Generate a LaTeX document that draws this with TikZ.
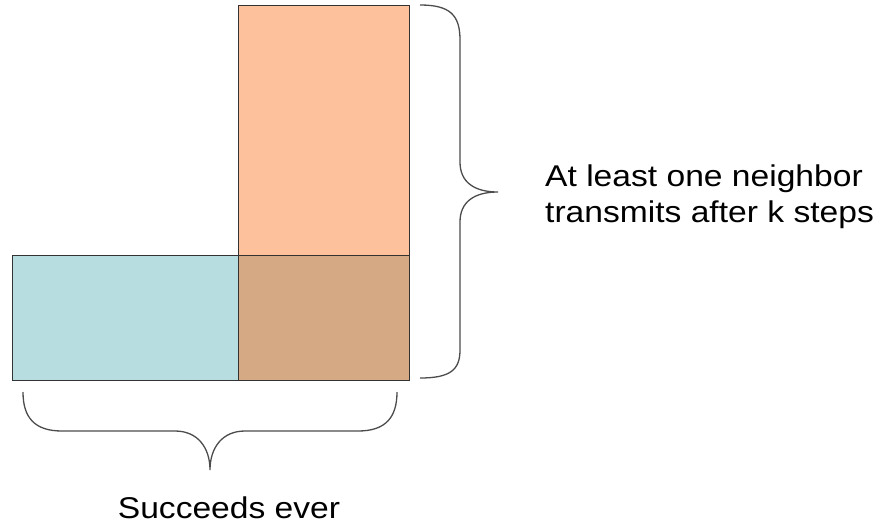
\documentclass[tikz,border=0pt]{standalone}
\usepackage{fontspec}
\setmainfont{Liberation Sans}[FakeStretch=1.12]
\begin{document}
\begin{tikzpicture}[x=1pt,y=-1pt,
  box/.style={draw=black!80, line width=1pt, inner sep=0pt, anchor=north west},
  brace/.style={draw=black!70, line width=1.3pt},
  lbl/.style={font=\fontsize{30}{36}\selectfont, inner sep=0pt}]
\useasboundingbox (0,0) rectangle (886,528);
\definecolor{orangefill}{HTML}{FDC29B}
\definecolor{bluefill}{HTML}{B7DDE0}
\definecolor{brownfill}{HTML}{D4A983}
\node[box, fill=orangefill, minimum width=171pt, minimum height=375pt] (tall) at (238,5) {};
\node[box, fill=bluefill, minimum width=226pt, minimum height=125pt] (wide) at (12,255) {};
\node[box, fill=brownfill, minimum width=171pt, minimum height=125pt] (both) at (238,255) {};
\coordinate (rtop) at (420,5);
\coordinate (rtip) at (498,192);
\coordinate (rbot) at (420,378);
\draw[brace] (rtop) .. controls (450,5) and (460,15) .. (460,40) -- (460,162)
  .. controls (460,182) and (474,192) .. (rtip)
  .. controls (474,192) and (460,202) .. (460,222) -- (460,350)
  .. controls (460,370) and (450,378) .. (rbot);
\coordinate (bl) at (23,392);
\coordinate (btip) at (210,470);
\coordinate (br) at (397,392);
\draw[brace] (bl) .. controls (23,418) and (35,431) .. (62,431) -- (175,431)
  .. controls (198,431) and (210,448) .. (btip)
  .. controls (210,448) and (222,431) .. (245,431) -- (358,431)
  .. controls (385,431) and (397,418) .. (br);
\node[lbl, anchor=base west, align=left] (rtext) at (545,222) {At least one neighbor\\transmits after k steps};
\node[lbl, anchor=base] (btext) at (229,518) {Succeeds ever};
\end{tikzpicture}
\end{document}
